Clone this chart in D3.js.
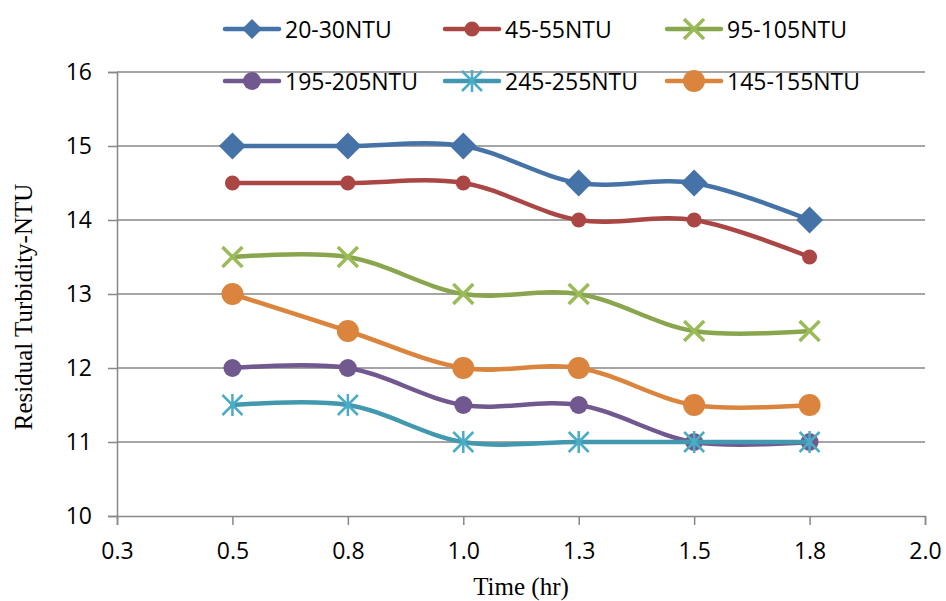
<!DOCTYPE html>
<html>
<head>
<meta charset="utf-8">
<script src="https://cdn.jsdelivr.net/npm/d3@7"></script>
<style>
  html, body { margin: 0; padding: 0; background: #fff; }
  svg { display: block; }
</style>
</head>
<body>
<svg id="chart" width="946" height="601"></svg>
<script>
// Sampling times (hours) and residual turbidity per raw-water band
const times = [0.5, 0.75, 1.0, 1.25, 1.5, 1.75];
const xTicks = [0.25, 0.5, 0.75, 1.0, 1.25, 1.5, 1.75, 2.0];
const yTicks = [10, 11, 12, 13, 14, 15, 16];

const seriesNames = ["20-30NTU", "45-55NTU", "95-105NTU", "195-205NTU", "245-255NTU", "145-155NTU"];
const s20_30   = [15, 15, 15, 14.5, 14.5, 14];
const s45_55   = [14.5, 14.5, 14.5, 14, 14, 13.5];
const s95_105  = [13.5, 13.5, 13, 13, 12.5, 12.5];
const s195_205 = [12, 12, 11.5, 11.5, 11, 11];
const s245_255 = [11.5, 11.5, 11, 11, 11, 11];
const s145_155 = [13, 12.5, 12, 12, 11.5, 11.5];

const lineColors   = ["#4572A7", "#AA4643", "#89A54E", "#71588F", "#4198AF", "#DB843D"];
const markerColors = ["#4572A7", "#AA4643", "#9BBB59", "#71588F", "#4BACC6", "#DB843D"];
const markerTypes  = ["diamond", "circleS", "x", "circleM", "star", "circleL"];

const seriesValues = [s20_30, s45_55, s95_105, s195_205, s245_255, s145_155];
const series = seriesNames.map((name, i) => ({
  name, color: lineColors[i], mcolor: markerColors[i], marker: markerTypes[i],
  points: times.map((t, j) => ({ t, v: seriesValues[i][j] }))
}));

const svg = d3.select("#chart");
const plotL = 117, plotR = 925, plotT = 72, plotB = 516;

const x = d3.scaleLinear().domain([0.25, 2.0]).range([plotL, plotR]);
const y = d3.scaleLinear().domain([10, 16]).range([plotB, plotT]);

const gridColor = "#878787";
const sansFont = "'Open Sans', 'Noto Sans', sans-serif";
const serifFont = "'Liberation Serif', 'Times New Roman', serif";

// Horizontal gridlines
svg.append("g").selectAll("line").data(yTicks.filter(v => v > 10)).join("line")
  .attr("x1", plotL).attr("x2", plotR)
  .attr("y1", d => y(d)).attr("y2", d => y(d))
  .attr("stroke", gridColor).attr("stroke-width", 1.5);

// Y axis
const yAxis = svg.append("g").attr("transform", `translate(${plotL},0)`)
  .call(d3.axisLeft(y).tickValues(yTicks).tickSize(9).tickPadding(16).tickFormat(d3.format("d")));
yAxis.select(".domain").attr("stroke", gridColor).attr("stroke-width", 1.5);
yAxis.selectAll(".tick line").attr("stroke", gridColor).attr("stroke-width", 1.5);
yAxis.selectAll("text").attr("fill", "#000")
  .style("font-family", sansFont).style("font-size", "23px");

// X axis
const xAxis = svg.append("g").attr("transform", `translate(0,${plotB})`)
  .call(d3.axisBottom(x).tickValues(xTicks).tickSize(9).tickPadding(18).tickFormat(d3.format(".1f")));
xAxis.select(".domain").attr("stroke", gridColor).attr("stroke-width", 1.5);
xAxis.selectAll(".tick line").attr("stroke", gridColor).attr("stroke-width", 1.5);
xAxis.selectAll("text").attr("fill", "#000")
  .style("font-family", sansFont).style("font-size", "23px");

// Axis titles
svg.append("text")
  .attr("transform", `translate(32,${(plotT + plotB) / 2 + 13}) rotate(-90)`)
  .attr("text-anchor", "middle")
  .style("font-family", serifFont).style("font-size", "25px")
  .text("Residual Turbidity-NTU");
svg.append("text")
  .attr("x", (plotL + plotR) / 2).attr("y", 595)
  .attr("text-anchor", "middle")
  .style("font-family", serifFont).style("font-size", "25px")
  .text("Time (hr)");

// Marker shapes
function drawMarker(g, type, color, small) {
  switch (type) {
    case "diamond": {
      const h = small ? 10 : 13.5;
      g.append("path").attr("d", `M0,${-h}L${h},0L0,${h}L${-h},0Z`).attr("fill", color);
      break;
    }
    case "circleS":
      g.append("circle").attr("r", 7.5).attr("fill", color);
      break;
    case "circleM":
      g.append("circle").attr("r", 9).attr("fill", color);
      break;
    case "circleL":
      g.append("circle").attr("r", 11).attr("fill", color);
      break;
    case "x":
      g.append("path").attr("d", "M-10,-10L10,10M-10,10L10,-10")
        .attr("stroke", color).attr("stroke-width", 3.5).attr("fill", "none");
      break;
    case "star":
      g.append("path").attr("d", "M-10,-10L10,10M-10,10L10,-10M0,-11L0,11")
        .attr("stroke", color).attr("stroke-width", 2.5).attr("fill", "none");
      break;
  }
}

// Smoothed series lines with markers
const line = d3.line().x(d => x(d.t)).y(d => y(d.v)).curve(d3.curveCatmullRom.alpha(0.5));
const plot = svg.append("g");
series.forEach(s => {
  const g = plot.append("g");
  g.append("path").attr("d", line(s.points))
    .attr("fill", "none").attr("stroke", s.color).attr("stroke-width", 4.5)
    .attr("stroke-linecap", "round");
  g.selectAll("g.m").data(s.points).join("g").attr("class", "m")
    .attr("transform", d => `translate(${x(d.t)},${y(d.v)})`)
    .each(function () { drawMarker(d3.select(this), s.marker, s.mcolor, false); });
});

// Legend: two rows of three
const legendCols = [225, 445, 667];
const legendRows = [29, 81];
series.forEach((s, i) => {
  const lx = legendCols[i % 3], ly = legendRows[Math.floor(i / 3)];
  const g = svg.append("g").attr("transform", `translate(${lx},${ly})`);
  g.append("line").attr("x1", 0).attr("x2", 54).attr("y1", 0).attr("y2", 0)
    .attr("stroke", s.color).attr("stroke-width", 4.5).attr("stroke-linecap", "round");
  const mg = g.append("g").attr("transform", "translate(27,0)");
  drawMarker(mg, s.marker, s.mcolor, true);
  g.append("text").attr("x", 60).attr("y", 9)
    .style("font-family", sansFont).style("font-size", "23px")
    .text(s.name);
});
</script>
</body>
</html>
